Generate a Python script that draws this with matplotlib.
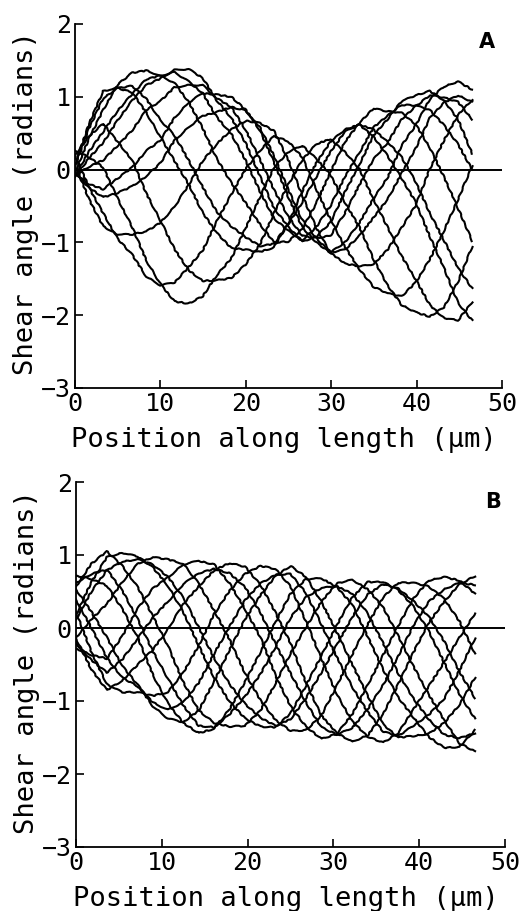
import matplotlib
matplotlib.use("Agg")
import matplotlib.pyplot as plt

# sample positions along the flagellum (um)
x_a = [0, 1.65, 3.3, 5.0, 6.7, 8.35, 10.0, 11.65, 13.3, 14.95, 16.6, 18.3, 20.0, 21.65, 23.3,
       24.95, 26.6, 28.25, 29.9, 31.6, 33.3, 34.95, 36.6, 38.25, 39.9, 41.55, 43.2, 44.85, 46.5]
x_b = [0, 1.8, 3.6, 5.4, 7.2, 8.95, 10.7, 12.5, 14.3, 16.1, 17.9, 19.7, 21.5, 23.25, 25.0,
       26.8, 28.6, 30.4, 32.2, 34.0, 35.8, 37.55, 39.3, 41.1, 42.9, 44.7, 46.5]

# shear angle (radians), one list per frame
shear_a = [
    [0.06, 0.63, 1.08, 1.12, 1.06, 0.78, 0.45, 0.12, -0.20, -0.59, -0.87, -1.08, -1.10, -1.13, -1.07,
     -0.74, -0.30, 0.09, 0.38, 0.55, 0.62, 0.45, 0.19, -0.12, -0.45, -0.92, -1.35, -1.83, -2.07],
    [-0.04, 0.43, 0.82, 1.17, 1.33, 1.36, 1.29, 1.19, 0.93, 0.57, 0.15, -0.18, -0.46, -0.75, -1.00,
     -0.99, -0.82, -0.46, -0.04, 0.38, 0.64, 0.84, 0.80, 0.78, 0.62, 0.30, -0.10, -0.53, -0.98],
    [-0.10, 0.16, 0.37, 0.68, 0.95, 1.16, 1.25, 1.37, 1.38, 1.26, 0.95, 0.71, 0.36, -0.09, -0.53,
     -0.78, -0.99, -0.92, -0.73, -0.31, 0.07, 0.47, 0.69, 0.94, 1.02, 1.08, 0.95, 0.69, 0.22],
    [-0.05, -0.20, -0.27, -0.12, 0.03, 0.26, 0.40, 0.71, 0.92, 1.05, 1.03, 1.00, 0.82, 0.54, 0.10,
     -0.37, -0.79, -1.00, -1.14, -1.00, -0.73, -0.40, -0.11, 0.33, 0.61, 0.97, 1.14, 1.21, 1.10],
    [0.07, -0.41, -0.78, -0.89, -0.89, -0.85, -0.73, -0.51, -0.21, 0.12, 0.35, 0.55, 0.67, 0.64, 0.53,
     0.14, -0.35, -0.80, -1.14, -1.29, -1.33, -1.30, -1.10, -0.80, -0.49, 0.01, 0.40, 0.75, 0.96],
    [0.20, -0.25, -0.60, -0.95, -1.17, -1.47, -1.59, -1.55, -1.34, -1.11, -0.71, -0.34, 0.01, 0.26, 0.46,
     0.39, 0.17, -0.27, -0.68, -1.06, -1.37, -1.61, -1.70, -1.74, -1.55, -1.23, -0.84, -0.41, 0.05],
    [0.26, 0.17, 0.03, -0.40, -0.79, -1.25, -1.57, -1.81, -1.84, -1.74, -1.45, -1.22, -0.80, -0.38, 0.03,
     0.24, 0.33, 0.15, -0.07, -0.45, -0.79, -1.23, -1.59, -1.86, -1.96, -2.02, -1.89, -1.54, -1.06],
    [0.20, 0.46, 0.63, 0.38, 0.13, -0.33, -0.70, -1.09, -1.38, -1.53, -1.52, -1.49, -1.30, -1.03, -0.60,
     -0.21, 0.13, 0.35, 0.42, 0.24, 0.01, -0.41, -0.79, -1.19, -1.51, -1.86, -2.04, -2.07, -1.82],
    [0.05, 0.57, 0.98, 1.12, 1.15, 0.97, 0.68, 0.47, 0.13, -0.24, -0.58, -0.78, -0.93, -1.05, -1.02,
     -0.75, -0.45, -0.10, 0.24, 0.52, 0.62, 0.55, 0.38, 0.17, -0.17, -0.60, -0.97, -1.35, -1.63],
    [-0.08, 0.25, 0.52, 0.81, 1.04, 1.24, 1.29, 1.34, 1.21, 1.05, 0.72, 0.49, 0.12, -0.30, -0.67,
     -0.84, -0.97, -0.79, -0.50, -0.10, 0.23, 0.58, 0.74, 0.89, 0.88, 0.82, 0.61, 0.35, 0.00],
    [-0.08, 0.04, 0.13, 0.33, 0.54, 0.82, 0.94, 1.13, 1.16, 1.16, 0.98, 0.86, 0.54, 0.14, -0.28,
     -0.64, -0.91, -0.94, -0.91, -0.60, -0.21, 0.14, 0.37, 0.69, 0.87, 1.02, 0.99, 0.93, 0.69],
    [-0.03, -0.25, -0.38, -0.32, -0.23, -0.09, 0.09, 0.40, 0.58, 0.74, 0.79, 0.86, 0.81, 0.58, 0.19,
     -0.27, -0.69, -0.94, -1.14, -1.10, -0.91, -0.66, -0.41, -0.05, 0.29, 0.71, 0.92, 1.02, 0.93],
]

shear_b = [
    [0.18, 0.63, 0.97, 1.03, 0.98, 0.83, 0.58, 0.22, -0.24, -0.68, -1.01, -1.24, -1.35, -1.36,
     -1.17, -0.79, -0.38, 0.04, 0.42, 0.63, 0.63, 0.52, 0.30, -0.04, -0.47, -0.91, -1.24],
    [-0.13, 0.12, 0.33, 0.63, 0.88, 0.97, 0.94, 0.88, 0.61, 0.24, -0.16, -0.62, -0.99, -1.26,
     -1.41, -1.40, -1.20, -0.79, -0.36, 0.05, 0.42, 0.62, 0.62, 0.57, 0.40, 0.09, -0.35],
    [-0.28, -0.37, -0.42, -0.11, 0.27, 0.54, 0.69, 0.87, 0.92, 0.87, 0.61, 0.26, -0.13, -0.65,
     -1.07, -1.35, -1.52, -1.45, -1.18, -0.78, -0.37, 0.03, 0.40, 0.65, 0.70, 0.65, 0.47],
    [-0.14, -0.57, -0.85, -0.72, -0.50, -0.30, -0.02, 0.33, 0.57, 0.79, 0.89, 0.84, 0.59, 0.21,
     -0.21, -0.75, -1.20, -1.44, -1.56, -1.47, -1.18, -0.77, -0.34, 0.07, 0.36, 0.60, 0.71],
    [0.22, -0.33, -0.77, -0.88, -0.88, -0.93, -0.88, -0.61, -0.24, 0.19, 0.51, 0.74, 0.85, 0.81,
     0.57, 0.09, -0.42, -0.91, -1.28, -1.49, -1.57, -1.44, -1.12, -0.80, -0.47, -0.13, 0.20],
    [0.53, 0.22, -0.13, -0.52, -0.78, -1.07, -1.24, -1.29, -1.13, -0.73, -0.30, 0.12, 0.45, 0.71,
     0.85, 0.70, 0.36, -0.06, -0.50, -0.93, -1.32, -1.50, -1.48, -1.45, -1.30, -1.05, -0.68],
    [0.72, 0.67, 0.58, 0.26, -0.13, -0.64, -1.03, -1.30, -1.44, -1.38, -1.11, -0.74, -0.33, 0.08,
     0.47, 0.67, 0.68, 0.56, 0.32, -0.12, -0.57, -0.95, -1.22, -1.49, -1.64, -1.63, -1.40],
    [0.57, 0.88, 1.05, 0.85, 0.56, 0.16, -0.24, -0.74, -1.13, -1.30, -1.35, -1.34, -1.13, -0.76,
     -0.35, 0.01, 0.36, 0.61, 0.66, 0.53, 0.28, -0.11, -0.52, -0.91, -1.26, -1.58, -1.69],
    [0.12, 0.50, 0.79, 0.91, 0.94, 0.87, 0.70, 0.42, 0.01, -0.41, -0.77, -1.04, -1.23, -1.34,
     -1.25, -0.96, -0.61, -0.23, 0.15, 0.46, 0.60, 0.54, 0.37, 0.16, -0.18, -0.60, -0.96],
    [-0.21, -0.44, -0.61, -0.43, -0.14, 0.14, 0.36, 0.60, 0.75, 0.81, 0.75, 0.56, 0.21, -0.22,
     -0.62, -1.02, -1.36, -1.46, -1.37, -1.11, -0.78, -0.39, 0.03, 0.36, 0.53, 0.62, 0.59],
    [0.39, 0.00, -0.41, -0.68, -0.80, -1.02, -1.12, -1.02, -0.75, -0.35, 0.02, 0.38, 0.61, 0.73,
     0.74, 0.48, 0.05, -0.40, -0.81, -1.15, -1.42, -1.48, -1.34, -1.19, -0.97, -0.58, -0.14],
    [0.62, 0.74, 0.80, 0.51, 0.12, -0.32, -0.69, -1.06, -1.34, -1.36, -1.18, -0.94, -0.63, -0.26,
     0.14, 0.42, 0.55, 0.57, 0.47, 0.20, -0.21, -0.62, -0.96, -1.25, -1.46, -1.51, -1.44],
]

x_ticks = [0, 10, 20, 30, 40, 50]
y_ticks = [-3, -2, -1, 0, 1, 2]
y_tick_labels = ["\u22123", "\u22122", "\u22121", "0", "1", "2"]

MONO = "DejaVu Sans Mono"


def draw_panel(ax, x, frames, letter, letter_pos):
    for y in frames:
        line, = ax.plot(x, y, color="black", lw=1.5, solid_joinstyle="round")
        line.set_sketch_params(scale=0.55, length=14, randomness=4)
    ax.axhline(0, color="black", lw=1.4)

    ax.set_xlim(0, 50)
    ax.set_ylim(-3, 2)
    ax.spines["top"].set_visible(False)
    ax.spines["right"].set_visible(False)
    ax.spines["left"].set_linewidth(1.3)
    ax.spines["bottom"].set_linewidth(1.3)

    ax.set_xticks(x_ticks)
    ax.set_xticklabels([str(t) for t in x_ticks], family=MONO, fontsize=18)
    ax.set_yticks(y_ticks)
    ax.set_yticklabels(y_tick_labels, family=MONO, fontsize=18)
    ax.tick_params(direction="in", length=6, width=1.2, pad=3)

    ax.set_xlabel("Position along length (\u00b5m)", family=MONO, fontsize=19.5)
    ax.set_ylabel("Shear angle (radians)", family=MONO, fontsize=19.5)
    ax.xaxis.set_label_coords(0.49, -0.108)
    ax.yaxis.set_label_coords(-0.085, 0.507)

    ax.text(letter_pos[0], letter_pos[1], letter, transform=ax.transAxes,
            fontsize=15, fontweight="bold", ha="center", va="center")


fig = plt.figure(figsize=(5.23, 9.11), dpi=100)
ax_a = fig.add_axes([75 / 523, 1 - 388 / 911, 427 / 523, 364 / 911])
ax_b = fig.add_axes([76 / 523, 1 - 847 / 911, 429 / 523, 365 / 911])

draw_panel(ax_a, x_a, shear_a, "A", (0.965, 0.95))
draw_panel(ax_b, x_b, shear_b, "B", (0.972, 0.945))

fig.savefig("out.png", dpi=100)
